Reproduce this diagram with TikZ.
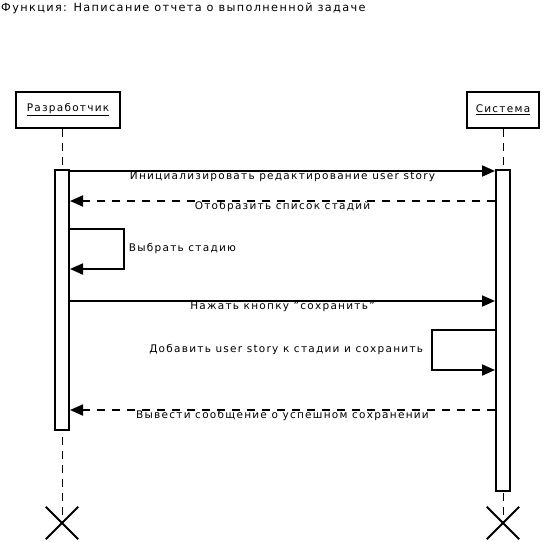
\documentclass[tikz,border=0pt]{standalone}
\usepackage{fontspec}
\setmainfont{DejaVu Sans}[LetterSpace=12]
\usetikzlibrary{arrows.meta,calc}

\begin{document}
\begin{tikzpicture}[x=1pt,y=-1pt,
    font=\fontsize{10.5}{12}\selectfont,
    actor/.style={draw,line width=2pt,minimum height=36pt,inner sep=0pt},
    act/.style={draw,fill=white,line width=2pt,minimum width=14pt,inner sep=0pt},
    life/.style={line width=1pt,dash pattern=on 8pt off 6pt},
    msg/.style={line width=1.8pt,-{Triangle[length=13pt,width=11pt]}},
    ret/.style={msg,dash pattern=on 8pt off 7pt},
    lbl/.style={midway,below,inner sep=0pt,yshift=0.5pt},
    cross/.style={minimum size=32pt,inner sep=0pt}]
  \useasboundingbox (0,0) rectangle (543,541);
  \node[anchor=north west,inner sep=0pt,font=\fontsize{11.3}{13}\selectfont] (title) at (1,3)
    {Функция: Написание отчета о выполненной задаче};
  % objects and lifelines
  \node[actor,minimum width=104pt] (dev) at (68,110) {\underline{Разработчик}};
  \node[actor,minimum width=72pt] (sys) at (503,110) {\underline{Система}};
  \node[cross] (devend) at (62,523) {};
  \node[cross] (sysend) at (503,523) {};
  \draw[life] (devend |- dev.south) -- (devend.center);
  \draw[life] (sysend |- sys.south) -- (sysend.center);
  \foreach \n in {devend,sysend}
    \draw[line width=2pt] (\n.north west) -- (\n.south east) (\n.north east) -- (\n.south west);
  \node[act,minimum height=260pt] (devact) at (62,300) {};
  \node[act,minimum height=321pt] (sysact) at (503,330.5) {};
  % messages
  \draw[msg] ([yshift=-2pt]devact.north east) -- ([yshift=-2pt]sysact.north west)
    node[lbl] {Инициализировать редактирование user story};
  \draw[ret] ([yshift=-32pt]sysact.north west) -- ([yshift=-32pt]devact.north east)
    node[lbl] {Отобразить список стадий};
  \draw[msg] ([yshift=-60pt]devact.north east) -- ++(54,0) -- ++(0,40)
    node[midway,right=3pt,inner sep=1pt] {Выбрать стадию} -- ++(-54,0);
  \draw[msg] ([yshift=-132pt]devact.north east) -- ([yshift=-132pt]sysact.north west)
    node[lbl] {Нажать кнопку "сохранить"};
  \draw[msg] ([yshift=-161pt]sysact.north west) -- ++(-63,0) -- ++(0,40)
    node[midway,left=7pt,inner sep=1pt] {Добавить user story к стадии и сохранить} -- ++(63,0);
  \draw[ret] ([yshift=-241pt]sysact.north west) -- ([yshift=-241pt]devact.north east)
    node[lbl] {Вывести сообщение о успешном сохранении};
\end{tikzpicture}
\end{document}
